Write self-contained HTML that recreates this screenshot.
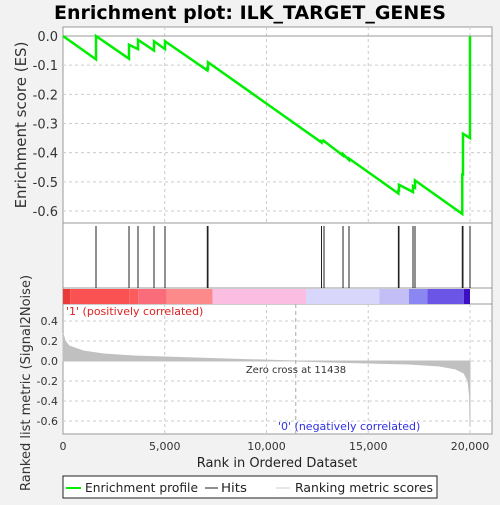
<!DOCTYPE html>
<html><head><meta charset="utf-8"><style>
body{margin:0;background:#f2f2f2;font-family:"Liberation Sans","DejaVu Sans",sans-serif}
</style></head><body>
<svg id="c" width="500" height="500" xmlns="http://www.w3.org/2000/svg" font-family="DejaVu Sans, Liberation Sans, sans-serif"></svg>
<script>
const hitRanks=[1622,3243,3686,4472,5012,7090,7125,12703,12826,13760,14054,16480,16511,17199,17297,19620,19656,20000];
const esBefore=[-0.08,-0.078,-0.045,-0.05,-0.045,-0.118,-0.118,-0.365,-0.362,-0.41,-0.425,-0.54,-0.53,-0.535,-0.52,-0.61,-0.475,-0.35];
const esAfter=[0.0,-0.03,-0.013,-0.018,-0.018,-0.105,-0.09,-0.36,-0.36,-0.405,-0.42,-0.53,-0.51,-0.515,-0.495,-0.475,-0.335,0.0];
const metricRanks=[0,100,300,1000,2000,3500,5000,8000,11438,13000,15000,17000,18500,19300,19700,19900,19980,20000];
const metricVals=[0.28,0.2,0.15,0.1,0.07,0.05,0.04,0.02,0,-0.01,-0.02,-0.03,-0.05,-0.08,-0.12,-0.2,-0.35,-0.65];
const esTicks=[0,-0.1,-0.2,-0.3,-0.4,-0.5,-0.6];
const metricTicks=[0.4,0.2,0,-0.2,-0.4,-0.6];
const xTicks=[0,5000,10000,15000,20000];
const barStops=[0,350,3250,3700,5100,7350,11950,15550,17000,17900,19700,20000];
const barColors=["#ea3a3a","#fa5252","#fc5c5c","#fa6c7a","#fc8a8a","#fcbde2","#d8d6fa","#c4bef6","#8a86f2","#6a55e6","#3a10c0"];
const X0=63,X1=492,XR=470;
const x=r=>X0+(XR-X0)*r/20000;
const yE=v=>36+(211-36)*(-v)/0.6;
const yM=v=>361-v*100;
const s=document.getElementById('c');const NS="http://www.w3.org/2000/svg";
function el(t,a,p){const e=document.createElementNS(NS,t);for(const k in a)e.setAttribute(k,a[k]);(p||s).appendChild(e);return e;}
const title=el('text',{x:250,y:19,'text-anchor':'middle','font-size':19,'font-weight':'bold'});title.textContent='Enrichment plot: ILK_TARGET_GENES';

el('rect',{x:X0,y:27,width:X1-X0,height:196,fill:'#fff',stroke:'#999'});
el('rect',{x:X0,y:223,width:X1-X0,height:65,fill:'#fff',stroke:'#999'});
el('rect',{x:X0,y:288,width:X1-X0,height:16,fill:'#fff',stroke:'#999'});
el('rect',{x:X0,y:304,width:X1-X0,height:130,fill:'#fff',stroke:'#999'});
xTicks.slice(1).forEach(t=>{el('line',{x1:x(t),x2:x(t),y1:27,y2:223,stroke:'#ccc','stroke-dasharray':'3,3'});el('line',{x1:x(t),x2:x(t),y1:304,y2:434,stroke:'#ccc','stroke-dasharray':'3,3'});});
esTicks.forEach(t=>{el('line',{x1:X0,x2:X1,y1:yE(t),y2:yE(t),stroke:t===0?'#999':'#ccc','stroke-dasharray':t===0?'':'3,3'});
const tx=el('text',{x:58,y:yE(t)+5,'text-anchor':'end','font-size':13,fill:'#333'});tx.textContent=t===0?'0.0':t.toFixed(1);
});
metricTicks.forEach(t=>{el('line',{x1:X0,x2:X1,y1:yM(t),y2:yM(t),stroke:'#ccc','stroke-dasharray':'3,3'});
const tx=el('text',{x:58,y:yM(t)+4,'text-anchor':'end','font-size':11,fill:'#333'});tx.textContent=t.toFixed(1);
});
let pts=[[x(0),yE(0)]];
hitRanks.forEach((r,i)=>{pts.push([x(r),yE(esBefore[i])]);pts.push([x(r),yE(esAfter[i])]);});
const esl=el('polyline',{points:pts.map(p=>p.join(',')).join(' '),fill:'none',stroke:'#00ee00','stroke-width':2.5});

hitRanks.forEach(r=>{const l=el('line',{x1:x(r),x2:x(r),y1:226,y2:288,stroke:'#222','stroke-width':1});
});
barColors.forEach((c,i)=>{const r=el('rect',{x:x(barStops[i]),y:289,width:x(barStops[i+1])-x(barStops[i]),height:15,fill:c});
});
let mp=`M${x(0)},${yM(0)} `+metricRanks.map((r,i)=>`L${x(r)},${yM(metricVals[i])}`).join(' ')+` L${x(20000)},${yM(0)} Z`;
const ar=el('path',{d:mp,fill:'#c0c0c0',stroke:'#c0c0c0'});

el('line',{x1:x(11438),x2:x(11438),y1:304,y2:434,stroke:'#aaa','stroke-dasharray':'4,3'});
function txt(t,a,n){const e=el('text',a);e.textContent=t;return e;}
txt('Zero cross at 11438',{x:296,y:373,'text-anchor':'middle','font-size':10,fill:'#333'},'zero-cross-label');
txt("'1' (positively correlated)",{x:66,y:315,'font-size':11,fill:'#e02020'},'positive-label');
txt("'0' (negatively correlated)",{x:278,y:430,'font-size':11,fill:'#3030e0'},'negative-label');
xTicks.forEach(t=>txt(t.toLocaleString('en-US'),{x:x(t),y:450,'text-anchor':'middle','font-size':11,fill:'#333'},'x-tick-label'));
txt('Rank in Ordered Dataset',{x:277,y:467,'text-anchor':'middle','font-size':13,fill:'#222'},'x-axis-title');
txt('Enrichment score (ES)',{x:0,y:0,'text-anchor':'middle','font-size':15,fill:'#333',transform:'translate(26,125) rotate(-90)'},'es-axis-title');
txt('Ranked list metric (Signal2Noise)',{x:0,y:0,'text-anchor':'middle','font-size':13,fill:'#333',transform:'translate(30,383) rotate(-90)'},'metric-axis-title');
const lg=el('g',{});
el('rect',{x:63,y:476,width:374,height:22,fill:'#fff',stroke:'#222'},lg);
el('line',{x1:66,x2:81,y1:488,y2:488,stroke:'#00ee00','stroke-width':2},lg);
txt('Enrichment profile',{x:85,y:492,'font-size':12,fill:'#222',textLength:113,lengthAdjust:'spacingAndGlyphs'},'legend-enrichment');
el('line',{x1:205,x2:218,y1:488,y2:488,stroke:'#222'},lg);
txt('Hits',{x:221,y:492,'font-size':12,fill:'#222',textLength:26,lengthAdjust:'spacingAndGlyphs'},'legend-hits');
el('line',{x1:276,x2:290,y1:488,y2:488,stroke:'#ccc'},lg);
txt('Ranking metric scores',{x:295,y:492,'font-size':12,fill:'#222',textLength:138,lengthAdjust:'spacingAndGlyphs'},'legend-metric');
</script></body></html>
